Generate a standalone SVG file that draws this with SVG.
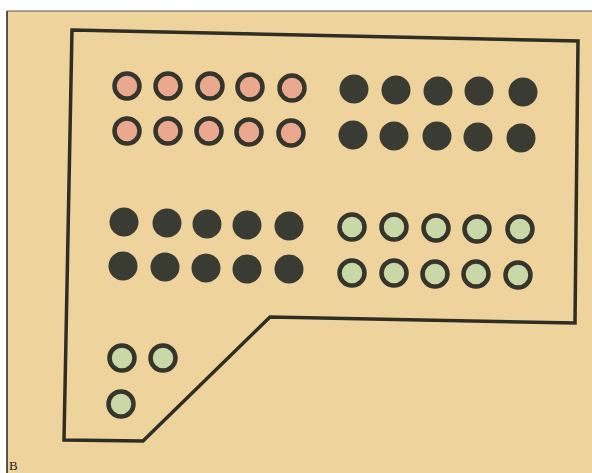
<svg xmlns="http://www.w3.org/2000/svg" width="592" height="473" viewBox="0 0 592 473">
<style>
.ring{stroke:#35352b;stroke-width:4.5}
.pink{fill:#eaa98e}
.green{fill:#c9d8a6}
.dark{fill:#3a3c34;stroke:none}
.outline{fill:none;stroke:#2e2e26;stroke-width:3.5;stroke-linejoin:miter}
.edge{font-family:"Liberation Serif",serif;font-size:13px;fill:#222}
</style>
<rect x="0" y="0" width="592" height="473" fill="#ffffff"/>
<rect x="7" y="11" width="585" height="462" fill="#eed49c"/>
<path d="M7 11 V473" stroke="#222" stroke-width="1.5" fill="none"/>
<path d="M7 11 H592" stroke="#555" stroke-width="1" fill="none"/>
<path class="outline" d="M72 30 L578 41 L575 323 L270 317 L143 441 L64 440 Z"/>
<g id="pink-top">
<circle class="ring pink" cx="127" cy="86" r="12.5"/>
<circle class="ring pink" cx="168" cy="86" r="12.5"/>
<circle class="ring pink" cx="210" cy="86" r="12.5"/>
<circle class="ring pink" cx="250" cy="87" r="12.5"/>
<circle class="ring pink" cx="292" cy="88" r="12.5"/>
<circle class="ring pink" cx="127" cy="131" r="12.5"/>
<circle class="ring pink" cx="168" cy="131" r="12.5"/>
<circle class="ring pink" cx="209" cy="131" r="12.5"/>
<circle class="ring pink" cx="249" cy="132" r="12.5"/>
<circle class="ring pink" cx="291" cy="133" r="12.5"/>
</g>
<g id="dark-top">
<circle class="dark" cx="354" cy="89" r="14.5"/>
<circle class="dark" cx="396" cy="90" r="14.5"/>
<circle class="dark" cx="438" cy="91" r="14.5"/>
<circle class="dark" cx="479" cy="91" r="14.5"/>
<circle class="dark" cx="523" cy="92" r="14.5"/>
<circle class="dark" cx="353" cy="135" r="14.5"/>
<circle class="dark" cx="394" cy="136" r="14.5"/>
<circle class="dark" cx="437" cy="136" r="14.5"/>
<circle class="dark" cx="478" cy="137" r="14.5"/>
<circle class="dark" cx="521" cy="138" r="14.5"/>
</g>
<g id="dark-middle">
<circle class="dark" cx="124" cy="222" r="14.5"/>
<circle class="dark" cx="167" cy="223" r="14.5"/>
<circle class="dark" cx="207" cy="224" r="14.5"/>
<circle class="dark" cx="247" cy="225" r="14.5"/>
<circle class="dark" cx="289" cy="226" r="14.5"/>
<circle class="dark" cx="123" cy="266" r="14.5"/>
<circle class="dark" cx="165" cy="267" r="14.5"/>
<circle class="dark" cx="206" cy="268" r="14.5"/>
<circle class="dark" cx="247" cy="269" r="14.5"/>
<circle class="dark" cx="289" cy="269" r="14.5"/>
</g>
<g id="green-middle">
<circle class="ring green" cx="352" cy="227" r="12.5"/>
<circle class="ring green" cx="394" cy="227" r="12.5"/>
<circle class="ring green" cx="436" cy="228" r="12.5"/>
<circle class="ring green" cx="477" cy="229" r="12.5"/>
<circle class="ring green" cx="520" cy="229" r="12.5"/>
<circle class="ring green" cx="352" cy="273" r="12.5"/>
<circle class="ring green" cx="394" cy="273" r="12.5"/>
<circle class="ring green" cx="435" cy="274" r="12.5"/>
<circle class="ring green" cx="476" cy="274" r="12.5"/>
<circle class="ring green" cx="518" cy="275" r="12.5"/>
</g>
<g id="green-bottom">
<circle class="ring green" cx="122" cy="358" r="12.5"/>
<circle class="ring green" cx="163" cy="358" r="12.5"/>
<circle class="ring green" cx="121" cy="404" r="12.5"/>
</g>
<text class="edge" x="9" y="470">В</text>
</svg>
